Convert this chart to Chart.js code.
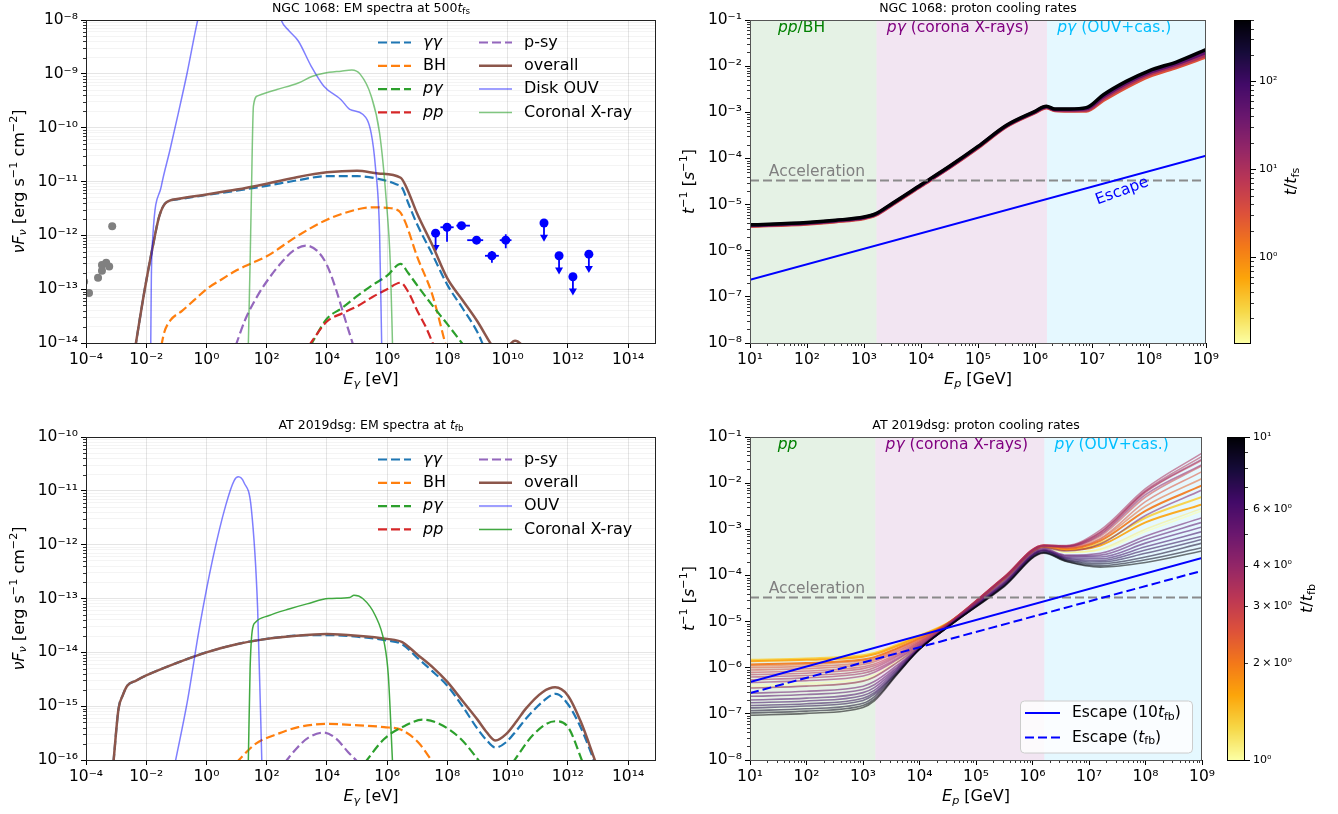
<!DOCTYPE html>
<html>
<head>
<meta charset="utf-8">
<title>NGC 1068 / AT 2019dsg</title>
<script src="https://cdn.jsdelivr.net/npm/chart.js@4.4.1/dist/chart.umd.min.js"></script>
<style>
  html, body { margin: 0; padding: 0; background: #fff; }
  #fig { position: relative; width: 1338px; height: 814px; overflow: hidden; }
  #fig canvas { position: absolute; left: 0; top: 0; }
</style>
</head>
<body>
<div id="fig">
  <canvas id="tl" width="1338" height="814"></canvas>
  <canvas id="tr" width="1338" height="814"></canvas>
  <canvas id="bl" width="1338" height="814"></canvas>
  <canvas id="br" width="1338" height="814"></canvas>
  <canvas id="cb1" width="1338" height="814"></canvas>
  <canvas id="cb2" width="1338" height="814"></canvas>
</div>
<script>
// all values are log10 of the plotted quantity

// --- NGC 1068: EM spectra (E in eV, nuFnu in erg/s/cm2) ---
const ngcGgE = [-2.37,-2.07,-1.78,-1.57,-1.36,-0.93,0,1,2,3,4,5,5.7,6.3,6.5,6.7,7,7.5,8,8.5,9,9.2];
const ngcGgF = [-14.1,-13.07,-12.2,-11.65,-11.4,-11.33,-11.25,-11.17,-11.08,-10.98,-10.9,-10.9,-10.95,-11.05,-11.12,-11.4,-11.8,-12.35,-12.92,-13.35,-13.8,-14.05];
const ngcBhE = [-1.5,-1.4,-1.2,-0.8,-0.4,0,0.5,1,1.5,2,3,4,5,5.5,6,6.4,6.6,7,7.5,7.95];
const ngcBhF = [-14.05,-13.8,-13.58,-13.4,-13.2,-13.0,-12.82,-12.65,-12.52,-12.39,-12.02,-11.71,-11.52,-11.48,-11.49,-11.55,-11.75,-12.4,-13.1,-14.05];
const ngcPgE = [3.45,4,4.5,5,5.5,6,6.45,6.7,7,7.5,8,8.55];
const ngcPgF = [-14.05,-13.55,-13.35,-13.13,-12.93,-12.75,-12.53,-12.7,-12.93,-13.3,-13.65,-14.05];
const ngcPpE = [3.4,4,4.5,5,5.5,6,6.45,6.7,7,7.3,7.55];
const ngcPpF = [-14.05,-13.6,-13.45,-13.32,-13.15,-13.0,-12.88,-13.05,-13.4,-13.72,-14.05];
const ngcPsyE = [0.97,1.3,1.7,2.1,2.5,2.9,3.3,3.7,4.0,4.3,4.6,4.88];
const ngcPsyF = [-14.05,-13.55,-13.12,-12.78,-12.5,-12.28,-12.19,-12.3,-12.55,-13.0,-13.55,-14.05];
const ngcAllE = [-2.37,-2.07,-1.78,-1.57,-1.36,-0.93,0,1,2,3,4,5,5.7,6.45,6.65,7,7.5,8,8.5,9,9.45,9.8,10.05,10.25,10.5,10.8];
const ngcAllF = [-14.1,-13.07,-12.2,-11.65,-11.4,-11.32,-11.24,-11.15,-11.04,-10.92,-10.83,-10.8,-10.85,-10.93,-11.12,-11.6,-12.18,-12.8,-13.2,-13.6,-14.02,-14.3,-14.05,-13.96,-14.05,-14.3];
const ngcOuvE = [-1.85,-1.83,-1.78,-1.5,-1.21,-0.93,-0.64,-0.29,-0.1,2.3,2.48,2.74,3.05,3.48,3.9,4.47,4.76,5.19,5.47,5.61,5.75,5.82];
const ngcOuvF = [-14.05,-12.8,-12.02,-11.09,-10.41,-9.72,-8.98,-8.0,-7.6,-7.6,-8.0,-8.2,-8.39,-8.86,-9.23,-9.48,-9.66,-9.75,-10.1,-10.72,-11.96,-14.05];
const ngcXrE = [1.39,1.45,1.49,1.56,1.7,1.99,2.34,3.05,3.5,3.9,4.47,4.83,5.11,5.47,5.75,5.97,6.11,6.18];
const ngcXrF = [-14.05,-12.5,-11.34,-9.6,-9.41,-9.35,-9.29,-9.17,-9.05,-8.99,-8.95,-8.93,-9.01,-9.41,-10.1,-11.34,-12.58,-14.05];
// measured points
const ngcRadioE = [-4.06,-3.9,-3.6,-3.47,-3.47,-3.33,-3.23,-3.13];
const ngcRadioF = [-12.86,-13.07,-12.79,-12.66,-12.55,-12.51,-12.58,-11.83];
const ngcGamE  = [7.61,7.99,8.47,8.97,9.48,9.94,11.21,11.71,12.17,12.7];
const ngcGamF  = [-11.96,-11.85,-11.82,-12.09,-12.38,-12.09,-11.77,-12.38,-12.77,-12.35];
const ngcGamXlo = [0,0.22,0.17,0.31,0.23,0.2,0,0,0,0];
const ngcGamXhi = [0,0.22,0.28,0.22,0.23,0.19,0,0,0,0];
const ngcGamYlo = [0,0.27,0,0,0.13,0.15,0,0,0,0];
const ngcGamYhi = [0,0.08,0,0,0.09,0.11,0,0,0,0];
const ngcGamUL  = [1,0,0,0,0,0,1,1,1,1];

// --- AT 2019dsg: EM spectra ---
const atGgE = [-3.09,-2.92,-2.78,-2.63,-2.35,-2,-1,0,1,2,3,4,5,6,6.5,7,7.5,8,8.5,9,9.3,9.6,9.95,10.3,10.6,11.2,11.6,12,12.45,12.9];
const atGgF = [-16.05,-15.05,-14.8,-14.62,-14.53,-14.43,-14.2,-14.0,-13.85,-13.75,-13.69,-13.68,-13.71,-13.78,-13.85,-14.1,-14.35,-14.62,-15.0,-15.42,-15.63,-15.77,-15.67,-15.45,-15.24,-14.9,-14.77,-14.96,-15.42,-16.05];
const atBhE = [0.99,1.63,2.34,3.05,4.05,4.9,5.9,6.47,7.03,7.53];
const atBhF = [-16.05,-15.7,-15.52,-15.39,-15.33,-15.35,-15.39,-15.44,-15.67,-16.05];
const atPgE = [5.26,5.9,6.61,7.17,7.74,8.45,9.1,9.6,10.17,10.87,11.58,12.01,12.5];
const atPgF = [-16.05,-15.61,-15.36,-15.25,-15.33,-15.61,-16.05,null,-16.05,-15.52,-15.28,-15.39,-16.05];
const atPpE = [];
const atPpF = [];
const atPsyE = [2.6,3.0,3.4,3.9,4.3,4.7,5.05];
const atPsyF = [-16.05,-15.78,-15.58,-15.49,-15.6,-15.85,-16.05];
const atAllE = [-3.09,-2.92,-2.78,-2.63,-2.35,-2,-1,0,1,2,3,4,5,6,6.5,7,7.5,8,8.5,9,9.3,9.6,9.95,10.3,10.6,11.16,11.58,12,12.44,12.93];
const atAllF = [-16.05,-15.05,-14.8,-14.62,-14.53,-14.43,-14.2,-14.0,-13.85,-13.75,-13.69,-13.66,-13.69,-13.75,-13.81,-14.04,-14.27,-14.55,-14.9,-15.25,-15.48,-15.64,-15.52,-15.28,-15.05,-14.74,-14.65,-14.8,-15.3,-16.05];
const atOuvE = [-1.04,-0.64,-0.22,0.21,0.64,0.92,1.06,1.25,1.49,1.7,1.84];
const atOuvF = [-16.05,-14.93,-13.5,-12.26,-11.27,-10.81,-10.74,-10.85,-11.33,-13.19,-16.05];
const atXrE = [1.39,1.45,1.52,1.63,2.06,2.77,3.34,4.05,4.76,4.9,5.19,5.61,5.9,6.04,6.18];
const atXrF = [-16.05,-14.3,-13.6,-13.44,-13.32,-13.19,-13.1,-13.0,-12.98,-12.94,-13.0,-13.32,-13.81,-14.43,-16.05];

// --- NGC 1068: proton cooling rates (E_p in GeV, rate in 1/s) ---
const ngcRateE = [1,2,2.5,3,3.2,3.5,4,4.5,5,5.5,6,6.2,6.35,6.6,6.9,7.2,7.6,8,8.5,9];
const ngcRateT = [3, 10, 50, 500];
const ngcRate3   = [-5.47,-5.42,-5.37,-5.3,-5.23,-5.0,-4.6,-4.2,-3.77,-3.31,-3.01,-2.9,-2.96,-2.97,-2.97,-2.74,-2.46,-2.22,-2.02,-1.8];
const ngcRate10  = [-5.46,-5.41,-5.36,-5.29,-5.22,-4.99,-4.59,-4.19,-3.76,-3.3,-3.0,-2.89,-2.95,-2.96,-2.95,-2.7,-2.42,-2.18,-1.98,-1.76];
const ngcRate50  = [-5.45,-5.4,-5.35,-5.28,-5.21,-4.98,-4.58,-4.18,-3.75,-3.29,-2.99,-2.88,-2.94,-2.94,-2.92,-2.66,-2.37,-2.14,-1.94,-1.7];
const ngcRate500 = [-5.44,-5.39,-5.34,-5.27,-5.2,-4.97,-4.57,-4.17,-3.74,-3.28,-2.98,-2.87,-2.93,-2.93,-2.9,-2.62,-2.33,-2.1,-1.9,-1.64];
const ngcEscE = [1, 9];
const ngcEscF = [-6.63, -3.94];
const accE = [1, 9];
const accF = [-4.48, -4.48];
const ngcTRange = [0.105, 500];

// --- AT 2019dsg: proton cooling rates ---
const atRateE = [1,2,3,3.2,3.6,4,4.5,5.5,6.2,6.6,7.2,8,9];
const atRateT = [1.0,1.1,1.3,1.6,2.0,2.25,2.5,2.75,3.0,3.25,3.5,3.75,4.0,4.5,5,5.5,6,6.5,7,7.5,8.5,9.2,10];
const atRate1p0  = [-6.38,-6.34,-6.24,-6.16,-5.86,-5.53,-5.07,-4.08,-3.39,-3.5,-3.45,-3.05,-2.6];
const atRate1p1  = [-6.43,-6.39,-6.29,-6.2,-5.89,-5.55,-5.08,-4.09,-3.4,-3.5,-3.43,-3.0,-2.55];
const atRate1p3  = [-5.83,-5.8,-5.73,-5.68,-5.5,-5.3,-5.03,-4.07,-3.38,-3.45,-3.3,-2.75,-2.3];
const atRate1p6  = [-5.86,-5.83,-5.76,-5.71,-5.53,-5.32,-5.04,-4.07,-3.38,-3.45,-3.35,-2.85,-2.46];
const atRate2p0  = [-5.93,-5.9,-5.82,-5.77,-5.58,-5.36,-5.04,-4.05,-3.36,-3.42,-3.25,-2.6,-2.05];
const atRate2p25 = [-5.96,-5.93,-5.85,-5.8,-5.6,-5.38,-5.04,-4.04,-3.35,-3.41,-3.22,-2.5,-1.9];
const atRate2p5  = [-6.0,-5.97,-5.89,-5.83,-5.63,-5.4,-5.04,-4.04,-3.35,-3.4,-3.2,-2.4,-1.75];
const atRate2p75 = [-6.05,-6.02,-5.93,-5.87,-5.66,-5.42,-5.04,-4.03,-3.34,-3.38,-3.15,-2.3,-1.62];
const atRate3p0  = [-6.1,-6.07,-5.98,-5.92,-5.7,-5.44,-5.05,-4.03,-3.34,-3.37,-3.1,-2.2,-1.5];
const atRate3p25 = [-6.15,-6.12,-6.02,-5.96,-5.73,-5.46,-5.05,-4.03,-3.34,-3.36,-3.06,-2.16,-1.42];
const atRate3p5  = [-6.2,-6.17,-6.07,-6.0,-5.76,-5.48,-5.06,-4.04,-3.35,-3.35,-3.02,-2.12,-1.35];
const atRate3p75 = [-6.26,-6.22,-6.12,-6.05,-5.8,-5.5,-5.07,-4.05,-3.36,-3.37,-3.07,-2.18,-1.48];
const atRate4p0  = [-6.32,-6.28,-6.18,-6.1,-5.83,-5.52,-5.08,-4.07,-3.37,-3.38,-3.12,-2.25,-1.6];
const atRate4p5  = [-6.44,-6.4,-6.29,-6.2,-5.89,-5.54,-5.09,-4.1,-3.4,-3.47,-3.32,-2.7,-2.15];
const atRate5    = [-6.55,-6.51,-6.4,-6.3,-5.95,-5.56,-5.1,-4.13,-3.42,-3.56,-3.52,-3.15,-2.75];
const atRate5p5  = [-6.62,-6.58,-6.47,-6.37,-5.99,-5.57,-5.1,-4.15,-3.44,-3.58,-3.56,-3.22,-2.85];
const atRate6    = [-6.7,-6.66,-6.54,-6.43,-6.02,-5.58,-5.11,-4.17,-3.45,-3.6,-3.6,-3.3,-2.95];
const atRate6p5  = [-6.76,-6.72,-6.6,-6.49,-6.05,-5.59,-5.11,-4.18,-3.46,-3.62,-3.64,-3.38,-3.05];
const atRate7    = [-6.82,-6.78,-6.66,-6.54,-6.08,-5.59,-5.12,-4.2,-3.47,-3.64,-3.68,-3.45,-3.15];
const atRate7p5  = [-6.87,-6.83,-6.71,-6.58,-6.1,-5.6,-5.12,-4.21,-3.49,-3.66,-3.71,-3.52,-3.22];
const atRate8p5  = [-6.93,-6.89,-6.77,-6.63,-6.12,-5.6,-5.12,-4.22,-3.5,-3.67,-3.75,-3.6,-3.3];
const atRate9p2  = [-6.98,-6.94,-6.82,-6.68,-6.14,-5.6,-5.12,-4.23,-3.51,-3.69,-3.79,-3.66,-3.4];
const atRate10   = [-7.03,-6.99,-6.86,-6.72,-6.15,-5.6,-5.12,-4.24,-3.52,-3.7,-3.82,-3.72,-3.47];
const atEscLongF = [-6.31, -3.62];
const atEscShortF = [-6.55, -3.9];
const atTRange = [1, 10];

// regions on the proton-energy axis
const regionEdges = [1, 3.22, 6.21, 9];

const FONT = '"DejaVu Sans", "Liberation Sans", sans-serif';
const W = 1338, H = 814;
const P = Math.pow;
const pts = (E, F) => E.map((e, i) => ({ x: P(10, e), y: F[i] === null ? null : P(10, F[i]) }));

const SUP = {'-':'⁻','0':'⁰','1':'¹','2':'²','3':'³','4':'⁴','5':'⁵','6':'⁶','7':'⁷','8':'⁸','9':'⁹'};
const pow10 = e => '10' + String(e).split('').map(c => SUP[c]).join('');

function decadeTicks(lo, hi, every, minors) {
  const out = [];
  for (let e = lo; e <= hi; e++) {
    if ((e - lo) % every === 0) out.push({ value: P(10, e), major: true, label: pow10(e) });
    if (minors) for (let m = 2; m <= 9; m++) out.push({ value: m * P(10, e), major: false, label: '' });
  }
  return out;
}

const INF = ['#000004','#160b39','#420a68','#6a176e','#932667','#bc3754','#dd513a','#f37819','#fca50a','#f6d746','#fcffa4']
  .map(h => [1, 3, 5].map(k => parseInt(h.substr(k, 2), 16)));
function inferno(f, a) {
  f = Math.min(1, Math.max(0, f)) * 10;
  const i = Math.min(9, Math.floor(f)), r = f - i;
  const c = INF[i].map((v, k) => Math.round(v + (INF[i + 1][k] - v) * r));
  return 'rgba(' + c.join(',') + ',' + (a === undefined ? 1 : a) + ')';
}
// reversed inferno on a log norm: small t = pale yellow, large t = black
const tColor = (t, range, a) => inferno(1 - (Math.log10(t) - Math.log10(range[0])) / (Math.log10(range[1]) - Math.log10(range[0])), a);

function rich(ctx, segs, x, y, size, o) {
  o = o || {};
  const parts = segs.map(s => {
    const fs = (s.sub || s.sup) ? size * 0.7 : size;
    const font = (s.i ? 'italic ' : '') + fs + 'px ' + FONT;
    ctx.font = font;
    return { t: s.t, font, w: ctx.measureText(s.t).width, dy: s.sub ? size * 0.24 : s.sup ? -size * 0.36 : 0 };
  });
  const total = parts.reduce((a, p) => a + p.w, 0);
  ctx.save();
  ctx.translate(x, y);
  if (o.rot) ctx.rotate(o.rot);
  let cx = o.align === 'left' ? 0 : -total / 2;
  ctx.fillStyle = o.color || '#000';
  ctx.textBaseline = 'middle';
  ctx.textAlign = 'left';
  parts.forEach(p => { ctx.font = p.font; ctx.fillText(p.t, cx, p.dy); cx += p.w; });
  ctx.restore();
}

function axis(pos, min, max, ticks, size, gridOn, fontSize) {
  const horiz = pos === 'bottom';
  return {
    type: 'logarithmic', position: pos, min, max,
    afterBuildTicks: s => { s.ticks = ticks.filter(t => t.value >= min * 0.9999 && t.value <= max * 1.0001).map(t => Object.assign({}, t)); },
    afterFit: s => { if (horiz) s.height = size; else s.width = size; },
    border: { display: false },
    grid: {
      drawOnChartArea: gridOn, drawTicks: true, tickLength: 5, lineWidth: 0.8,
      color: c => (c.tick && c.tick.major) ? 'rgba(0,0,0,0.13)' : 'rgba(0,0,0,0.055)',
      tickColor: c => (c.tick && c.tick.major) ? '#000' : 'rgba(0,0,0,0)',
      tickWidth: 1
    },
    ticks: {
      autoSkip: false, maxRotation: 0, minRotation: 0, padding: 3, color: '#000',
      font: { family: FONT, size: fontSize },
      callback: (v, i, arr) => (arr[i] && arr[i].label) ? arr[i].label : ''
    }
  };
}

const minorTicks = {
  id: 'minorTicks',
  afterDraw(chart) {
    const ctx = chart.ctx, a = chart.chartArea;
    ctx.save(); ctx.strokeStyle = '#000'; ctx.lineWidth = 0.8;
    Object.values(chart.scales).forEach(s => {
      if (!s.options.display) return;
      s.ticks.forEach(t => {
        if (t.major) return;
        const p = Math.round(s.getPixelForValue(t.value)) + 0.5;
        ctx.beginPath();
        if (s.position === 'left') { ctx.moveTo(a.left, p); ctx.lineTo(a.left - 3, p); }
        else if (s.position === 'right') { ctx.moveTo(a.right, p); ctx.lineTo(a.right + 3, p); }
        else { ctx.moveTo(p, a.bottom); ctx.lineTo(p, a.bottom + 3); }
        ctx.stroke();
      });
    });
    ctx.restore();
  }
};

function spines(chart, color) {
  const a = chart.chartArea, ctx = chart.ctx;
  ctx.save(); ctx.strokeStyle = color; ctx.lineWidth = 1;
  ctx.strokeRect(Math.round(a.left) + 0.5, Math.round(a.top) + 0.5, Math.round(a.right - a.left) - 1, Math.round(a.bottom - a.top));
  ctx.restore();
}

const DASH = [9, 4];
function lineDs(E, F, color, width, dash) {
  return { data: pts(E, F), borderColor: color, borderWidth: width, borderDash: dash || [],
    pointRadius: 0, fill: false, cubicInterpolationMode: 'monotone', spanGaps: false };
}

const YW = 60, XH = 30;
function makeChart(id, box, datasets, scales, deco) {
  datasets.forEach((d, i) => { d.order = -i; });
  return new Chart(document.getElementById(id), {
    type: 'line',
    data: { datasets },
    options: {
      responsive: false, animation: false, devicePixelRatio: 1, events: [],
      layout: { padding: { left: box.l - YW, top: box.t, right: W - box.r, bottom: H - box.b - XH } },
      plugins: { legend: { display: false }, tooltip: { enabled: false }, title: { display: false } },
      scales
    },
    plugins: [minorTicks, deco]
  });
}

const specLabels = [
  [{ t: 'γγ', i: 1 }], [{ t: 'BH' }], [{ t: 'pγ', i: 1 }], [{ t: 'pp', i: 1 }],
  [{ t: 'p-sy' }], [{ t: 'overall' }], null, [{ t: 'Coronal X-ray' }]
];
function specLegend(chart, ouvName) {
  const ctx = chart.ctx, a = chart.chartArea;
  specLabels.forEach((segs, i) => {
    const ds = chart.data.datasets[i];
    const col = i < 4 ? 0 : 1, row = i % 4;
    const x0 = a.left + (col ? 393 : 292), y0 = a.top + 22.5 + row * 23.3;
    ctx.save(); ctx.strokeStyle = ds.borderColor; ctx.lineWidth = ds.borderWidth; ctx.setLineDash(ds.borderDash || []);
    ctx.beginPath(); ctx.moveTo(x0, y0); ctx.lineTo(x0 + 33, y0); ctx.stroke(); ctx.restore();
    rich(ctx, segs || [{ t: ouvName }], x0 + 45, y0, 16, { align: 'left' });
  });
}

function specLabelsAxes(chart, title) {
  const a = chart.chartArea, ctx = chart.ctx, cx = (a.left + a.right) / 2;
  rich(ctx, title, cx, a.top - 11, 12.5);
  rich(ctx, [{ t: 'E', i: 1 }, { t: 'γ', i: 1, sub: 1 }, { t: ' [eV]' }], cx, a.bottom + 37, 16);
  rich(ctx, [{ t: 'νF', i: 1 }, { t: 'ν', i: 1, sub: 1 }, { t: ' [erg s' }, { t: '−1', sup: 1 }, { t: ' cm' }, { t: '−2', sup: 1 }, { t: ']' }],
    19.5, (a.top + a.bottom) / 2, 16, { rot: -Math.PI / 2 });
}

function specDatasets(d, xrColor, ouvColor) {
  return [
    lineDs(d.gg[0], d.gg[1], '#1f77b4', 2.2, DASH),
    lineDs(d.bh[0], d.bh[1], '#ff7f0e', 2.2, DASH),
    lineDs(d.pg[0], d.pg[1], '#2ca02c', 2.2, DASH),
    lineDs(d.pp[0], d.pp[1], '#d62728', 2.2, DASH),
    lineDs(d.psy[0], d.psy[1], '#9467bd', 2.2, DASH),
    lineDs(d.all[0], d.all[1], '#8c564b', 2.5),
    lineDs(d.ouv[0], d.ouv[1], ouvColor, 1.5),
    lineDs(d.xr[0], d.xr[1], xrColor, 1.5)
  ];
}

// ---------------- top-left ----------------
const tlBox = { l: 86, r: 656, t: 20, b: 343 };
const tlSets = specDatasets({ gg: [ngcGgE, ngcGgF], bh: [ngcBhE, ngcBhF], pg: [ngcPgE, ngcPgF], pp: [ngcPpE, ngcPpF],
  psy: [ngcPsyE, ngcPsyF], all: [ngcAllE, ngcAllF], ouv: [ngcOuvE, ngcOuvF], xr: [ngcXrE, ngcXrF] },
  'rgba(44,160,44,0.6)', 'rgba(0,0,255,0.5)');
tlSets.push({ type: 'scatter', data: pts(ngcRadioE, ngcRadioF), pointRadius: 4, pointBackgroundColor: '#808080', pointBorderWidth: 0, showLine: false });
tlSets.push({ type: 'scatter', data: pts(ngcGamE, ngcGamF), pointRadius: 4.5, pointBackgroundColor: '#0000ff', pointBorderWidth: 0, showLine: false });

makeChart('tl', tlBox, tlSets, {
  x: axis('bottom', 1e-4, 8.5e14, decadeTicks(-4, 14, 2, false), XH, true, 15.5),
  y: axis('left', 1e-14, 1e-8, decadeTicks(-14, -8, 1, true), YW, true, 15.5)
}, {
  id: 'tlDeco',
  beforeDatasetsDraw(chart) {
    const x = chart.scales.x, y = chart.scales.y, ctx = chart.ctx;
    ctx.save(); ctx.strokeStyle = '#0000ff'; ctx.fillStyle = '#0000ff'; ctx.lineWidth = 1.8;
    ngcGamE.forEach((e, i) => {
      const px = x.getPixelForValue(P(10, e)), py = y.getPixelForValue(P(10, ngcGamF[i]));
      if (ngcGamXlo[i] || ngcGamXhi[i]) {
        ctx.beginPath(); ctx.moveTo(x.getPixelForValue(P(10, e - ngcGamXlo[i])), py);
        ctx.lineTo(x.getPixelForValue(P(10, e + ngcGamXhi[i])), py); ctx.stroke();
      }
      if (ngcGamYlo[i] || ngcGamYhi[i]) {
        ctx.beginPath(); ctx.moveTo(px, y.getPixelForValue(P(10, ngcGamF[i] + ngcGamYhi[i])));
        ctx.lineTo(px, y.getPixelForValue(P(10, ngcGamF[i] - ngcGamYlo[i]))); ctx.stroke();
      }
      if (ngcGamUL[i]) {
        const pe = y.getPixelForValue(P(10, ngcGamF[i] - 0.33));
        ctx.beginPath(); ctx.moveTo(px, py); ctx.lineTo(px, pe - 4); ctx.stroke();
        ctx.beginPath(); ctx.moveTo(px - 4, pe - 6); ctx.lineTo(px + 4, pe - 6); ctx.lineTo(px, pe + 1); ctx.closePath(); ctx.fill();
      }
    });
    ctx.restore();
  },
  afterDraw(chart) {
    spines(chart, '#222');
    specLegend(chart, 'Disk OUV');
    specLabelsAxes(chart, [{ t: 'NGC 1068: EM spectra at 500' }, { t: 't', i: 1 }, { t: 'fs', sub: 1 }]);
  }
});

// ---------------- bottom-left ----------------
const blBox = { l: 86, r: 656, t: 437, b: 760 };
const blSets = specDatasets({ gg: [atGgE, atGgF], bh: [atBhE, atBhF], pg: [atPgE, atPgF], pp: [atPpE, atPpF],
  psy: [atPsyE, atPsyF], all: [atAllE, atAllF], ouv: [atOuvE, atOuvF], xr: [atXrE, atXrF] },
  'rgba(44,160,44,0.9)', 'rgba(0,0,255,0.5)');
makeChart('bl', blBox, blSets, {
  x: axis('bottom', 1e-4, 8.5e14, decadeTicks(-4, 14, 2, false), XH, true, 15.5),
  y: axis('left', 1e-16, 1e-10, decadeTicks(-16, -10, 1, true), YW, true, 15.5)
}, {
  id: 'blDeco',
  afterDraw(chart) {
    spines(chart, '#222');
    specLegend(chart, 'OUV');
    specLabelsAxes(chart, [{ t: 'AT 2019dsg: EM spectra at ' }, { t: 't', i: 1 }, { t: 'fb', sub: 1 }]);
  }
});

// ---------------- right panels ----------------
const regionFill = ['rgba(0,128,0,0.1)', 'rgba(128,0,128,0.1)', 'rgba(0,191,255,0.1)'];
const regionText = ['#008000', '#800080', '#00bfff'];
const regionX = [1.49, 3.4, 6.39];

function rateDeco(id, regionLabels, title, withLegend, escText) {
  return {
    id,
    beforeDatasetsDraw(chart) {
      const x = chart.scales.x, a = chart.chartArea, ctx = chart.ctx;
      ctx.save();
      for (let i = 0; i < 3; i++) {
        const x0 = x.getPixelForValue(P(10, regionEdges[i])), x1 = x.getPixelForValue(P(10, regionEdges[i + 1]));
        ctx.fillStyle = regionFill[i]; ctx.fillRect(x0, a.top, x1 - x0, a.bottom - a.top);
      }
      ctx.restore();
    },
    afterDatasetsDraw(chart) {
      const x = chart.scales.x, y = chart.scales.y, ctx = chart.ctx, a = chart.chartArea;
      regionLabels.forEach((segs, i) => {
        rich(ctx, segs, x.getPixelForValue(P(10, regionX[i])), y.getPixelForValue(P(10, -1.18)), 15.5, { align: 'left', color: regionText[i] });
      });
      rich(ctx, [{ t: 'Acceleration' }], x.getPixelForValue(P(10, 1.33)), y.getPixelForValue(P(10, -4.29)), 15.5, { align: 'left', color: '#808080' });
      if (escText) rich(ctx, [{ t: 'Escape' }], x.getPixelForValue(P(10, 7.53)), y.getPixelForValue(P(10, -4.71)), 15.5, { color: '#0000ff', rot: -20 * Math.PI / 180 });
      if (withLegend) {
        const bx = a.right - 182, by = a.bottom - 59.5, bw = 172, bh = 52;
        ctx.save();
        ctx.fillStyle = 'rgba(255,255,255,0.8)'; ctx.strokeStyle = 'rgba(204,204,204,1)'; ctx.lineWidth = 1;
        ctx.beginPath(); ctx.roundRect(bx + 0.5, by + 0.5, bw, bh, 4); ctx.fill(); ctx.stroke();
        [0, 1].forEach(k => {
          const ds = chart.data.datasets[chart.data.datasets.length - 2 + k];
          const ly = by + 12.5 + k * 24.4;
          ctx.strokeStyle = ds.borderColor; ctx.lineWidth = ds.borderWidth; ctx.setLineDash(ds.borderDash || []);
          ctx.beginPath(); ctx.moveTo(bx + 5, ly); ctx.lineTo(bx + 40, ly); ctx.stroke();
        });
        ctx.restore();
        rich(ctx, [{ t: 'Escape (10' }, { t: 't', i: 1 }, { t: 'fb', sub: 1 }, { t: ')' }], bx + 52, by + 12.5, 15.5, { align: 'left' });
        rich(ctx, [{ t: 'Escape (' }, { t: 't', i: 1 }, { t: 'fb', sub: 1 }, { t: ')' }], bx + 52, by + 37, 15.5, { align: 'left' });
      }
    },
    afterDraw(chart) {
      const a = chart.chartArea, ctx = chart.ctx, cx = (a.left + a.right) / 2;
      spines(chart, '#555');
      rich(ctx, title, cx, a.top - 11, 12.5);
      rich(ctx, [{ t: 'E', i: 1 }, { t: 'p', i: 1, sub: 1 }, { t: ' [GeV]' }], cx, a.bottom + 37, 16);
      rich(ctx, [{ t: 't', i: 1 }, { t: '−1', sup: 1 }, { t: ' [' }, { t: 's', i: 1 }, { t: '−1', sup: 1 }, { t: ']' }],
        690, (a.top + a.bottom) / 2, 16, { rot: -Math.PI / 2 });
    }
  };
}

const trBox = { l: 750, r: 1206, t: 20, b: 343 };
const trSets = [];
[ngcRate3, ngcRate10, ngcRate50, ngcRate500].forEach((F, k) => {
  trSets.push(lineDs(ngcRateE, F, tColor(ngcRateT[k], ngcTRange, 1), 3.5));
});
trSets.push(lineDs(accE, accF, 'rgba(128,128,128,0.9)', 2, DASH));
trSets.push(lineDs(ngcEscE, ngcEscF, '#0000ff', 2));
makeChart('tr', trBox, trSets, {
  x: axis('bottom', 10, 1e9, decadeTicks(1, 9, 1, true), XH, false, 15.5),
  y: axis('left', 1e-8, 1e-1, decadeTicks(-8, -1, 1, true), YW, false, 15.5)
}, rateDeco('trDeco', [
  [{ t: 'pp', i: 1 }, { t: '/BH' }],
  [{ t: 'pγ', i: 1 }, { t: ' (corona X-rays)' }],
  [{ t: 'pγ', i: 1 }, { t: ' (OUV+cas.)' }]
], [{ t: 'NGC 1068: proton cooling rates' }], false, true));

const brBox = { l: 750, r: 1202, t: 437, b: 760 };
const brSets = [];
[atRate1p0, atRate1p1, atRate1p3, atRate1p6, atRate2p0, atRate2p25, atRate2p5, atRate2p75, atRate3p0, atRate3p25,
 atRate3p5, atRate3p75, atRate4p0, atRate4p5, atRate5, atRate5p5, atRate6, atRate6p5, atRate7, atRate7p5,
 atRate8p5, atRate9p2, atRate10].forEach((F, k) => {
  const t = atRateT[k];
  const alpha = (t > 1.25 && t < 2.1) ? 0.9 : 0.55;   // the orange curves read stronger in the figure
  brSets.push(lineDs(atRateE, F, tColor(t, atTRange, alpha), t > 1.25 && t < 2.1 ? 2 : 1.6));
});
brSets.push(lineDs(accE, accF, 'rgba(128,128,128,0.9)', 2, DASH));
brSets.push(lineDs(ngcEscE, atEscLongF, '#0000ff', 2));
brSets.push(lineDs(ngcEscE, atEscShortF, '#0000ff', 2, DASH));
makeChart('br', brBox, brSets, {
  x: axis('bottom', 10, 1e9, decadeTicks(1, 9, 1, true), XH, false, 15.5),
  y: axis('left', 1e-8, 1e-1, decadeTicks(-8, -1, 1, true), YW, false, 15.5)
}, rateDeco('brDeco', [
  [{ t: 'pp', i: 1 }],
  [{ t: 'pγ', i: 1 }, { t: ' (corona X-rays)' }],
  [{ t: 'pγ', i: 1 }, { t: ' (OUV+cas.)' }]
], [{ t: 'AT 2019dsg: proton cooling rates' }], true, false));

// ---------------- colorbars ----------------
const CBW = 70;
function colorbar(id, box, range, ticks, label, labelX) {
  return new Chart(document.getElementById(id), {
    type: 'line',
    data: { datasets: [] },
    options: {
      responsive: false, animation: false, devicePixelRatio: 1, events: [],
      layout: { padding: { left: box.l, top: box.t, right: W - box.r - CBW, bottom: H - box.b } },
      plugins: { legend: { display: false }, tooltip: { enabled: false } },
      scales: {
        x: { type: 'linear', display: false, min: 0, max: 1 },
        y: axis('right', range[0], range[1], ticks, CBW, false, 11)
      }
    },
    plugins: [minorTicks, {
      id: id + 'Grad',
      beforeDatasetsDraw(chart) {
        const a = chart.chartArea, s = chart.scales.y, ctx = chart.ctx;
        for (let py = Math.floor(a.top); py < a.bottom; py++) {
          ctx.fillStyle = tColor(s.getValueForPixel(py + 0.5), range, 1);
          ctx.fillRect(a.left, py, a.right - a.left, 1);
        }
      },
      afterDraw(chart) {
        const a = chart.chartArea, ctx = chart.ctx;
        ctx.save(); ctx.strokeStyle = '#000'; ctx.lineWidth = 1;
        ctx.strokeRect(Math.round(a.left) + 0.5, Math.round(a.top) + 0.5, Math.round(a.right - a.left) - 1, Math.round(a.bottom - a.top));
        ctx.restore();
        rich(ctx, label, labelX, (a.top + a.bottom) / 2, 16, { rot: -Math.PI / 2 });
      }
    }]
  });
}

const cb1Ticks = decadeTicks(-1, 2, 1, true).filter(t => t.value <= 500);
colorbar('cb1', { l: 1234, r: 1251, t: 20, b: 343 }, ngcTRange, cb1Ticks,
  [{ t: 't', i: 1 }, { t: '/' }, { t: 't', i: 1 }, { t: 'fs', sub: 1 }], 1292);

const cb2Labels = { 2: '2\u2009×\u200910⁰', 3: '3\u2009×\u200910⁰', 4: '4\u2009×\u200910⁰', 6: '6\u2009×\u200910⁰' };
const cb2Ticks = decadeTicks(0, 1, 1, true).filter(t => t.value <= 10)
  .map(t => (cb2Labels[t.value] ? Object.assign({}, t, { label: cb2Labels[t.value] }) : t));
colorbar('cb2', { l: 1227, r: 1245, t: 437, b: 760 }, atTRange, cb2Ticks,
  [{ t: 't', i: 1 }, { t: '/' }, { t: 't', i: 1 }, { t: 'fb', sub: 1 }], 1308);
</script>
</body>
</html>
